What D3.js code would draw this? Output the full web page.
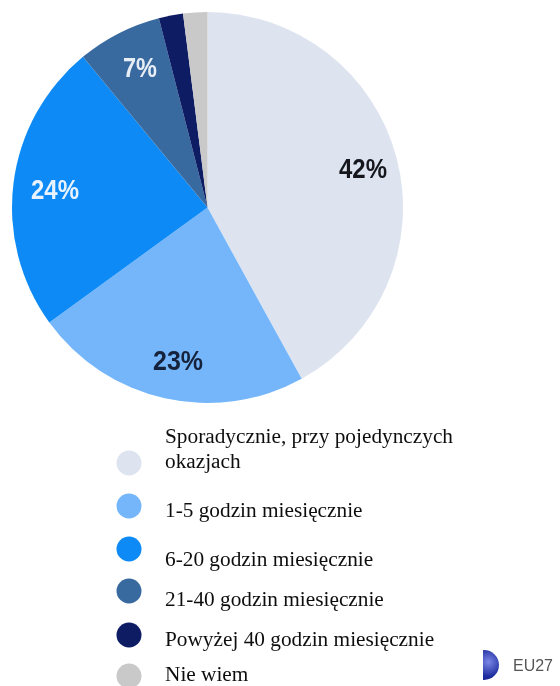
<!DOCTYPE html>
<html><head><meta charset="utf-8">
<script src="https://cdn.jsdelivr.net/npm/d3@7"></script>
<style>html,body{margin:0;padding:0;background:#fff;overflow:hidden}svg{display:block}</style>
</head><body>
<svg id="c" width="560" height="686"></svg>
<script>
const categories = ["Sporadycznie, przy pojedynczych okazjach","1-5 godzin miesięcznie","6-20 godzin miesięcznie","21-40 godzin miesięcznie","Powyżej 40 godzin miesięcznie","Nie wiem"];
const values = [42,23,24,7,2,2];
const colors = ["#dde4f0","#74b6fb","#0a8af5","#38699f","#0a1a63","#c9c9c9"];
const labels = ["42%","23%","24%","7%"];
const labelColors = ["#14181f","#14233a","#e8f3ff","#e8eef5"];
const legendLabelLines = [["Sporadycznie, przy pojedynczych","okazjach"],["1-5 godzin miesięcznie"],["6-20 godzin miesięcznie"],["21-40 godzin miesięcznie"],["Powyżej 40 godzin miesięcznie"],["Nie wiem"]];
const legendDotY = [463,506,549,591,635,676];
const legendTextY = [443,517,566,606,646,681];
const labelPos = [[363,169],[178,361],[55,190],[140,68]];
const labelW = [48,50,48,34];

const svg = d3.select("#c");
const defs = svg.append("defs");
defs.append("filter").attr("id","b").append("feGaussianBlur").attr("stdDeviation",0.7);
defs.append("filter").attr("id","b2").append("feGaussianBlur").attr("stdDeviation",0.35);

const pie = d3.pie().sort(null).value(d=>d);
const arc = d3.arc().innerRadius(0).outerRadius(195.5);
const g = svg.append("g").attr("transform","translate(207.5,207.5)").attr("filter","url(#b)");
g.selectAll("path").data(pie(values)).join("path").attr("d",arc).attr("fill",(d,i)=>colors[i]);

svg.append("g").attr("filter","url(#b)").selectAll("text").data(labels).join("text")
  .attr("x",(d,i)=>labelPos[i][0]).attr("y",(d,i)=>labelPos[i][1]).attr("text-anchor","middle").attr("dominant-baseline","central")
  .attr("font-family","Liberation Sans, Arial, sans-serif").attr("font-weight","700").attr("font-size",27)
  .attr("textLength",(d,i)=>labelW[i]).attr("lengthAdjust","spacingAndGlyphs")
  .attr("fill",(d,i)=>labelColors[i]).text(d=>d);

svg.append("g").attr("filter","url(#b)").selectAll("circle").data(legendDotY).join("circle")
  .attr("cx",129).attr("cy",d=>d).attr("r",12.5).attr("fill",(d,i)=>colors[i]);
const lg = svg.append("g").attr("filter","url(#b2)").attr("font-family","Liberation Serif, Times New Roman, serif").attr("font-size",21.3).attr("fill","#111");
legendLabelLines.forEach((lines,i)=>{
  lines.forEach((t,j)=>lg.append("text").attr("x",165).attr("y",legendTextY[i]+j*25).text(t));
});
defs.append("clipPath").attr("id","cp").append("rect").attr("x",483).attr("y",640).attr("width",30).attr("height",46);
const grad = defs.append("radialGradient").attr("id","glob").attr("cx","0.65").attr("cy","0.4");
grad.append("stop").attr("offset","0").attr("stop-color","#7c86e6");
grad.append("stop").attr("offset","1").attr("stop-color","#1b2a9c");
svg.append("g").attr("clip-path","url(#cp)").append("circle").attr("cx",484).attr("cy",665).attr("r",15).attr("fill","url(#glob)").attr("filter","url(#b2)");
svg.append("text").attr("x",513).attr("y",671).attr("font-family","Liberation Sans, Arial, sans-serif").attr("font-size",17).attr("textLength",40).attr("lengthAdjust","spacingAndGlyphs").attr("fill","#555").attr("filter","url(#b)").text("EU27");
</script>
</body></html>
